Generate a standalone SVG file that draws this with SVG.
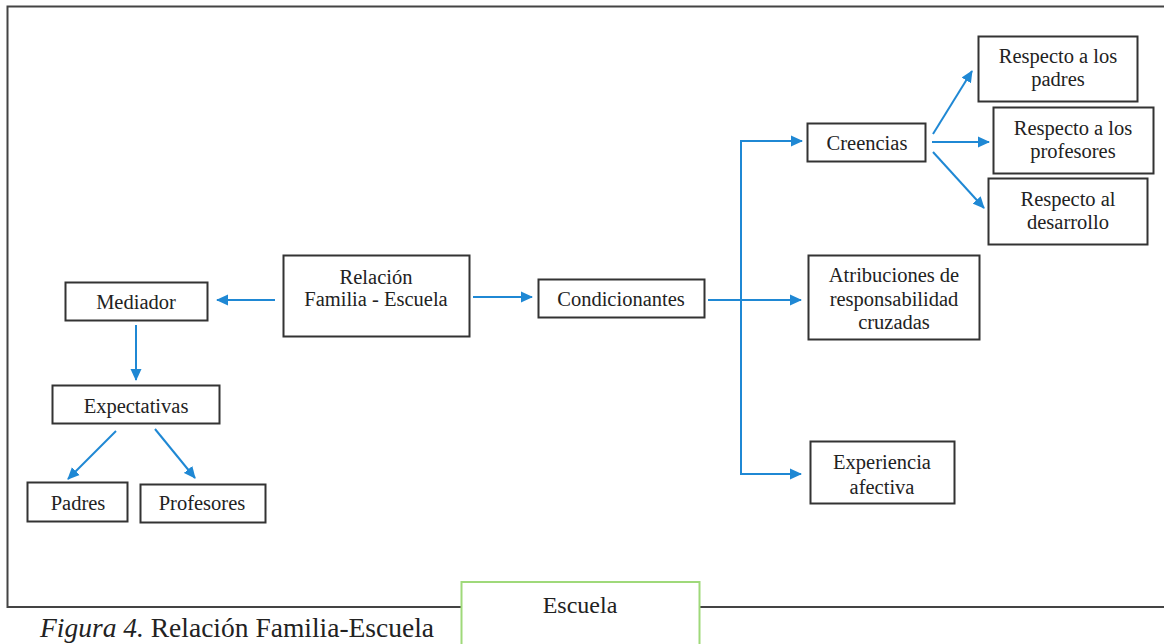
<svg xmlns="http://www.w3.org/2000/svg" width="1164" height="644" viewBox="0 0 1164 644">
<defs>
<style>
.box{fill:#fff;stroke:#333;stroke-width:2}
.t{font-family:"Liberation Serif","Times New Roman",serif;font-size:20.5px;fill:#222;text-anchor:middle}
.c{fill:none;stroke:#1f88d4;stroke-width:2}
.frame{fill:none;stroke:#444;stroke-width:2}
</style>
<marker id="ah" markerWidth="12" markerHeight="12" refX="11" refY="6" orient="auto" markerUnits="userSpaceOnUse">
<path d="M0,0.5 L12,6 L0,11.5 z" fill="#1f88d4"/>
</marker>
</defs>
<rect width="1164" height="644" fill="#fff"/>
<path class="frame" d="M1166,6.5 H7.5 V607 H461 M700 607 H1166"/>
<g id="escuela">
<rect x="461.5" y="582" width="238" height="70" fill="#fff" stroke="#9fd97a" stroke-width="2"/>
<text x="580" y="613" style="font-family:'Liberation Serif',serif;font-size:24px;fill:#222;text-anchor:middle">Escuela</text>
</g>
<text x="40" y="637" style="font-family:'Liberation Serif',serif;font-size:27.5px;fill:#222"><tspan font-style="italic">Figura 4.</tspan> Relación Familia-Escuela</text>
<g id="connectors">
<line class="c" x1="275" y1="300" x2="217" y2="300" marker-end="url(#ah)"/>
<line class="c" x1="136" y1="325" x2="136" y2="380" marker-end="url(#ah)"/>
<line class="c" x1="116" y1="431" x2="68" y2="479" marker-end="url(#ah)"/>
<line class="c" x1="155" y1="429" x2="195" y2="478" marker-end="url(#ah)"/>
<line class="c" x1="473" y1="297" x2="532" y2="297" marker-end="url(#ah)"/>
<line class="c" x1="708" y1="300" x2="801" y2="300" marker-end="url(#ah)"/>
<path class="c" d="M801,141 H741 V474 H801" marker-end="url(#ah)"/>
<line class="c" x1="741" y1="141" x2="802" y2="141" marker-end="url(#ah)"/>
<line class="c" x1="933" y1="134" x2="972" y2="71" marker-end="url(#ah)"/>
<line class="c" x1="932" y1="142" x2="989" y2="142" marker-end="url(#ah)"/>
<line class="c" x1="933" y1="152" x2="984" y2="208" marker-end="url(#ah)"/>
</g>
<g id="relacion"><rect class="box" x="283.5" y="255.5" width="186" height="81"/>
<text class="t" x="376" y="284">Relación</text><text class="t" x="376" y="306">Familia - Escuela</text></g>
<g id="mediador"><rect class="box" x="65.5" y="282.5" width="142" height="38"/><text class="t" x="136" y="309">Mediador</text></g>
<g id="expectativas"><rect class="box" x="52.5" y="385.5" width="167" height="38"/><text class="t" x="136" y="413">Expectativas</text></g>
<g id="padres"><rect class="box" x="27.5" y="482.5" width="100" height="39"/><text class="t" x="78" y="510">Padres</text></g>
<g id="profesores"><rect class="box" x="140.5" y="484.5" width="125" height="38"/><text class="t" x="202" y="510">Profesores</text></g>
<g id="condicionantes"><rect class="box" x="538.5" y="279.5" width="166" height="38"/><text class="t" x="621" y="306">Condicionantes</text></g>
<g id="creencias"><rect class="box" x="807.5" y="123.5" width="118" height="38"/><text class="t" x="867" y="150">Creencias</text></g>
<g id="resp-padres"><rect class="box" x="978.5" y="36.5" width="159" height="65"/>
<text class="t" x="1058" y="63">Respecto a los</text><text class="t" x="1058" y="86">padres</text></g>
<g id="resp-profesores"><rect class="box" x="993.5" y="107.5" width="160" height="66"/>
<text class="t" x="1073" y="135">Respecto a los</text><text class="t" x="1073" y="158">profesores</text></g>
<g id="resp-desarrollo"><rect class="box" x="988.5" y="178.5" width="159" height="66"/>
<text class="t" x="1068" y="206">Respecto al</text><text class="t" x="1068" y="229">desarrollo</text></g>
<g id="atribuciones"><rect class="box" x="808.5" y="255.5" width="171" height="84"/>
<text class="t" x="894" y="282">Atribuciones de</text><text class="t" x="894" y="306">responsabilidad</text><text class="t" x="894" y="329">cruzadas</text></g>
<g id="experiencia"><rect class="box" x="810.5" y="441.5" width="144" height="62"/>
<text class="t" x="882" y="469">Experiencia</text><text class="t" x="882" y="494">afectiva</text></g>
</svg>
